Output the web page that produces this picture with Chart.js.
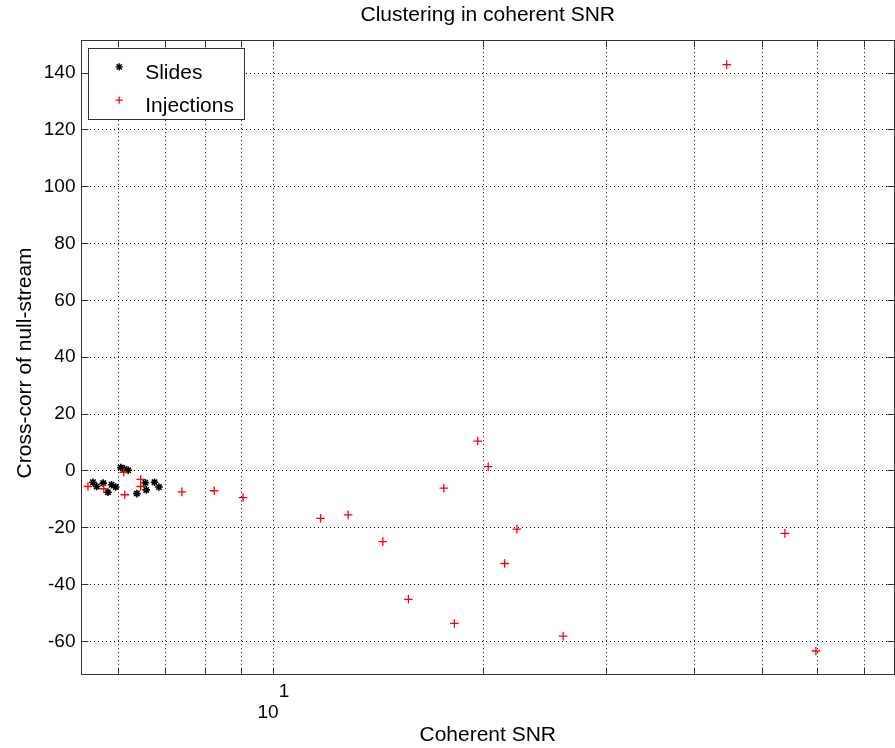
<!DOCTYPE html>
<html><head><meta charset="utf-8">
<script src="https://cdn.jsdelivr.net/npm/chart.js@4/dist/chart.umd.min.js"></script>
<style>html,body{margin:0;padding:0;background:#fff;overflow:hidden}#wrap{width:895px;height:748px;position:relative}canvas{display:block}</style>
</head><body><div id="wrap"><canvas id="c" width="895" height="748"></canvas></div>
<script>
// ---- text ----
const chartTitle = 'Clustering in coherent SNR';
const xAxisTitle = 'Coherent SNR';
const yAxisTitle = 'Cross-corr of null-stream';
const seriesNames = ['Slides', 'Injections'];

// ---- data ----
const slidesSNR   = [5.52, 5.59, 5.71, 5.80, 5.87, 5.95, 6.05, 6.12, 6.20, 6.38, 6.56, 6.58, 6.76, 6.86];
const slidesXcorr = [-4.0, -5.5, -4.3, -7.5, -4.9, -5.7, 1.2, 0.7, 0.2, -8.0, -4.2, -6.7, -4.0, -5.7];
const injSNR   = [5.43, 5.72, 6.11, 6.13, 6.46, 6.46, 7.40, 8.23, 9.05, 11.68, 12.79, 14.34, 15.60, 17.53, 18.15, 19.60, 20.29, 21.42, 22.30, 25.97, 44.5, 53.9, 59.7];
const injXcorr = [-5.5, -6.3, -0.5, -8.4, -3.0, -5.5, -7.4, -7.0, -9.4, -16.7, -15.5, -24.9, -45.2, -6.1, -53.7, 10.5, 1.5, -32.6, -20.5, -58.2, 143.0, -22.0, -63.4];

// ---- ticks ----
const xTicks = [6, 7, 8, 9, 10, 20, 30, 40, 50, 60, 70];
const xTickLabels = {10: ['    1', '10  ']};
const yTicks = [-60, -40, -20, 0, 20, 40, 60, 80, 100, 120, 140];
const xRange = [5.316, 77.2];
const yRange = [-71.5, 151.6];

Chart.defaults.font.family = "'Liberation Sans', Arial, Helvetica, sans-serif";
Chart.defaults.color = '#000';

// the markers may overflow the plot box (as in the original); don't shrink the plot area for them
const ScatterCtl = Chart.ScatterController || (Chart.registry && Chart.registry.getController && Chart.registry.getController('scatter'));
if (ScatterCtl) ScatterCtl.prototype.getMaxOverflow = function () { return 0; };

const frameColor = '#333';
const tickLen = 7;

function toPoints(xs, ys) { return xs.map((x, i) => ({x: x, y: ys[i]})); }

function marker(ctx, style, r, x, y, color, lw) {
  ctx.save();
  ctx.strokeStyle = color; ctx.fillStyle = color; ctx.lineWidth = lw; ctx.setLineDash([]);
  if (Chart.helpers && Chart.helpers.drawPoint) {
    Chart.helpers.drawPoint(ctx, {pointStyle: style, radius: r, rotation: 0, borderWidth: lw}, x, y);
  } else {
    ctx.beginPath();
    ctx.moveTo(x - r, y); ctx.lineTo(x + r, y); ctx.moveTo(x, y - r); ctx.lineTo(x, y + r);
    if (style === 'star') { const d = r * Math.SQRT1_2; ctx.moveTo(x - d, y - d); ctx.lineTo(x + d, y + d); ctx.moveTo(x - d, y + d); ctx.lineTo(x + d, y - d); }
    ctx.stroke();
  }
  ctx.restore();
}

const al = p => Math.round(p - 0.5) + 0.5;

const matlabAxes = {
  id: 'matlabAxes',
  afterDraw(chart) {
    const {ctx, chartArea: a, scales} = chart;
    ctx.save();
    ctx.strokeStyle = frameColor; ctx.lineWidth = 1; ctx.setLineDash([]);
    const L = al(a.left), R = al(a.right), T = al(a.top), B = al(a.bottom);
    ctx.strokeRect(L, T, R - L, B - T);
    ctx.beginPath();
    scales.x.ticks.forEach(t => {
      const p = al(scales.x.getPixelForValue(t.value));
      ctx.moveTo(p, B); ctx.lineTo(p, B - tickLen);
      ctx.moveTo(p, T); ctx.lineTo(p, T + tickLen);
    });
    scales.y.ticks.forEach(t => {
      const p = al(scales.y.getPixelForValue(t.value));
      ctx.moveTo(L, p); ctx.lineTo(L + tickLen, p);
      ctx.moveTo(R, p); ctx.lineTo(R - tickLen, p);
    });
    ctx.stroke();

    // legend box
    const bx = al(a.left + 6.8), by = al(a.top + 7.8), bw = 156, bh = 71;
    ctx.fillStyle = '#fff';
    ctx.fillRect(bx, by, bw, bh);
    ctx.strokeStyle = frameColor;
    ctx.strokeRect(bx, by, bw, bh);
    ctx.font = "21px 'Liberation Sans', Arial, Helvetica, sans-serif";
    ctx.textAlign = 'left';
    ctx.textBaseline = 'alphabetic';
    const ds = chart.data.datasets;
    const rows = [18.4, 51.7];
    ds.forEach((d, i) => {
      marker(ctx, d.pointStyle, 3.6, bx + 30.7, by + rows[i], d.pointBorderColor, d.pointStyle === 'star' ? 1.4 : 1.2);
      ctx.fillStyle = '#000';
      ctx.fillText(d.label, bx + 56.7, by + rows[i] + 11.8);
    });
    ctx.restore();
  }
};

new Chart(document.getElementById('c'), {
  type: 'scatter',
  data: {
    datasets: [
      {label: seriesNames[0], data: toPoints(slidesSNR, slidesXcorr), pointStyle: 'star', pointRadius: 3.8, pointBorderWidth: 1.6,
       pointBorderColor: '#000', pointBackgroundColor: '#000', order: 1},
      {label: seriesNames[1], data: toPoints(injSNR, injXcorr), pointStyle: 'cross', pointRadius: 4.3, pointBorderWidth: 1.3,
       pointBorderColor: '#ff0000', pointBackgroundColor: '#ff0000', order: 0}
    ]
  },
  options: {
    responsive: false,
    animation: false,
    events: [],
    layout: {padding: {left: 0, right: 1, top: 0, bottom: 0}},
    plugins: {
      legend: {display: false},
      tooltip: {enabled: false},
      title: {display: true, fullSize: false, text: chartTitle, color: '#000', font: {size: 21, weight: 'normal'}, padding: {top: 3, bottom: 12}}
    },
    scales: {
      x: {
        type: 'logarithmic', position: 'bottom', min: xRange[0], max: xRange[1],
        afterBuildTicks: s => { s.ticks = xTicks.map(v => ({value: v})); },
        afterFit: s => { s.height = 74; s.paddingLeft = 0; s.paddingRight = 0; },
        ticks: {autoSkip: false, maxRotation: 0, minRotation: 0, padding: 7, color: '#000',
                font: {size: 19, lineHeight: 1.1},
                callback: v => xTickLabels[v] || ''},
        grid: {color: '#000', lineWidth: 1, drawTicks: false},
        border: {display: false, dash: [1, 3]},
        title: {display: true, text: xAxisTitle, color: '#000', font: {size: 21}, padding: {top: 0, bottom: 0}}
      },
      y: {
        type: 'linear', position: 'left', min: yRange[0], max: yRange[1],
        afterBuildTicks: s => { s.ticks = yTicks.map(v => ({value: v})); },
        afterFit: s => { s.width = 81.5; s.paddingTop = 0; s.paddingBottom = 0; },
        ticks: {autoSkip: false, padding: 6, color: '#000', font: {size: 19}},
        grid: {color: '#000', lineWidth: 1, drawTicks: false},
        border: {display: false, dash: [1, 3]},
        title: {display: true, text: yAxisTitle + '  ', color: '#000', font: {size: 21}, padding: {top: 13, bottom: 0}}
      }
    }
  },
  plugins: [matlabAxes]
});
</script>
</body></html>
